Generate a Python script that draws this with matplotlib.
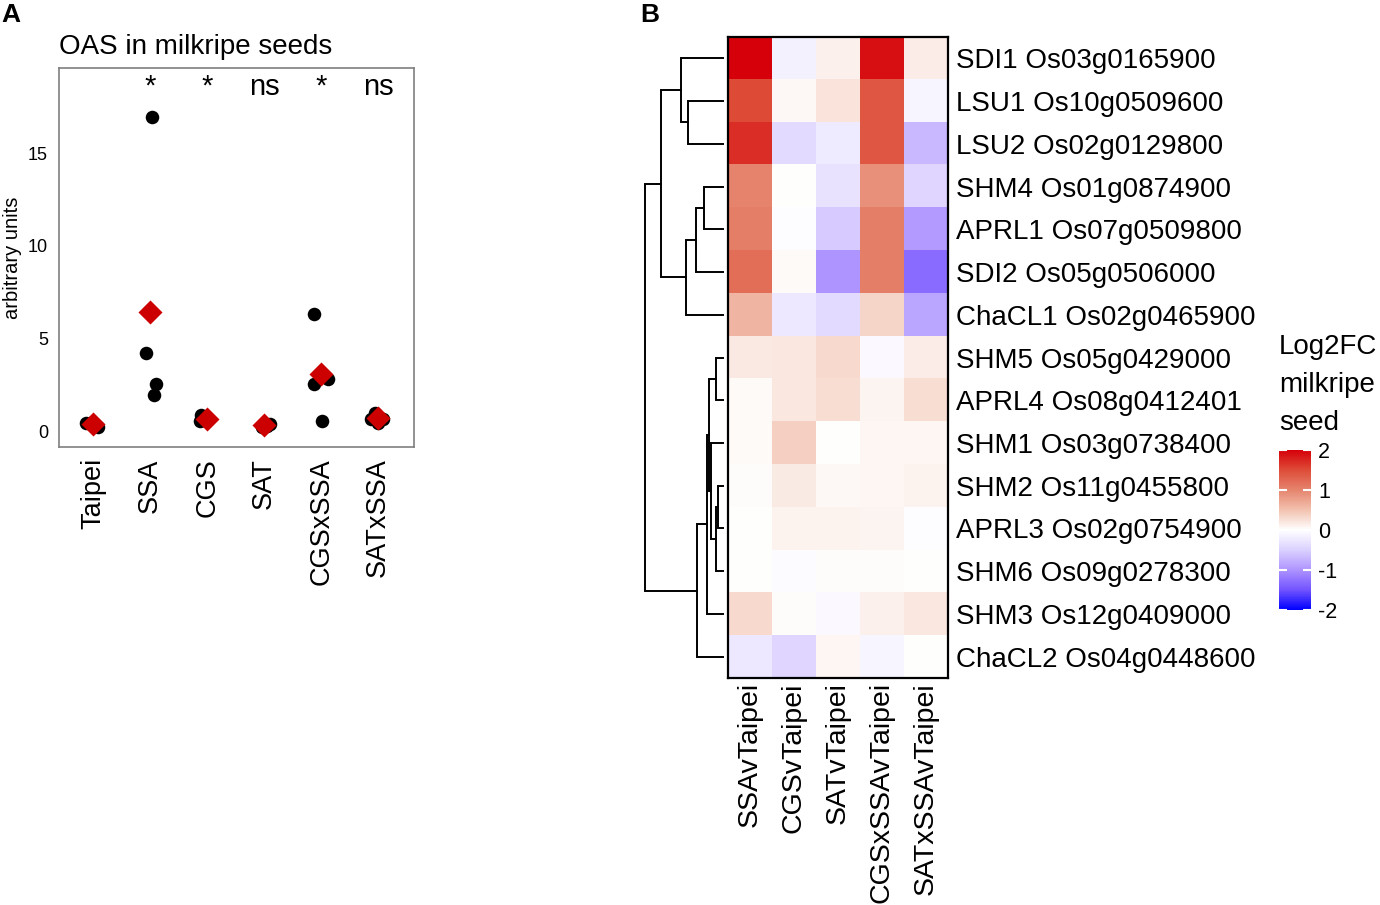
import matplotlib
matplotlib.use('Agg')
import matplotlib.pyplot as plt
import numpy as np
from matplotlib.colors import LinearSegmentedColormap

plt.rcParams['font.family'] = ['Liberation Sans', 'DejaVu Sans']
plt.rcParams['axes.unicode_minus'] = False

# ---- panel A data (OAS, 4 replicates per line) ----
lines_a = ['Taipei', 'SSA', 'CGS', 'SAT', 'CGSxSSA', 'SATxSSA']
oas_vals = [
    [0.45, 0.20, 0.40, 0.45],
    [16.95, 4.20, 2.54, 1.94],
    [0.85, 0.55, 0.60, 0.70],
    [0.40, 0.30, 0.25, 0.35],
    [6.35, 2.54, 2.80, 0.55],
    [1.00, 0.65, 0.45, 0.65],
]
jitter = [
    [-0.12, 0.09, 0.0, -0.05],
    [0.03, -0.07, 0.10, 0.07],
    [-0.10, -0.12, -0.07, -0.05],
    [0.10, 0.05, -0.03, 0.0],
    [-0.12, -0.12, 0.12, 0.02],
    [-0.05, 0.09, 0.0, -0.12],
]
signif = ['', '*', '*', 'ns', '*', 'ns']

# ---- panel B data (Log2FC milkripe seed) ----
genes = ['SDI1 Os03g0165900', 'LSU1 Os10g0509600', 'LSU2 Os02g0129800',
         'SHM4 Os01g0874900', 'APRL1 Os07g0509800', 'SDI2 Os05g0506000',
         'ChaCL1 Os02g0465900', 'SHM5 Os05g0429000', 'APRL4 Os08g0412401',
         'SHM1 Os03g0738400', 'SHM2 Os11g0455800', 'APRL3 Os02g0754900',
         'SHM6 Os09g0278300', 'SHM3 Os12g0409000', 'ChaCL2 Os04g0448600']
contrasts = ['SSAvTaipei', 'CGSvTaipei', 'SATvTaipei', 'CGSxSSAvTaipei', 'SATxSSAvTaipei']
log2fc = np.array([
    [2.00, -0.15, 0.12, 1.90, 0.15],
    [1.50, 0.05, 0.22, 1.40, -0.10],
    [1.70, -0.40, -0.22, 1.40, -0.70],
    [1.00, 0.00, -0.30, 0.90, -0.45],
    [1.05, -0.03, -0.55, 1.05, -0.95],
    [1.20, 0.04, -1.00, 1.05, -1.30],
    [0.60, -0.25, -0.40, 0.33, -0.85],
    [0.18, 0.20, 0.30, -0.05, 0.15],
    [0.04, 0.20, 0.27, 0.08, 0.27],
    [0.04, 0.38, 0.01, 0.07, 0.07],
    [0.03, 0.16, 0.06, 0.07, 0.10],
    [0.01, 0.10, 0.10, 0.08, -0.03],
    [0.00, -0.04, 0.02, 0.02, 0.00],
    [0.30, 0.02, -0.05, 0.12, 0.20],
    [-0.25, -0.45, 0.07, -0.10, 0.00],
])
# row dendrogram: (left, right, height); ids >= 15 are earlier merges
linkage = [
    (1, 2, 35), (0, 15, 42), (3, 4, 19), (17, 5, 27), (18, 6, 37), (16, 19, 62),
    (7, 8, 7), (10, 11, 5.5), (22, 12, 7), (9, 23, 12), (21, 24, 14.5),
    (25, 13, 15.7), (26, 14, 26), (20, 27, 78),
]

fig = plt.figure(figsize=(13.8, 9.05), dpi=100)

# ---------------- panel A ----------------
ax = fig.add_axes([0.0428, 0.506, 0.2572, 0.4188])
for i, (vals, jit) in enumerate(zip(oas_vals, jitter)):
    x = i + 1
    ax.scatter(np.array(jit) + x, vals, s=95, color='black', zorder=2, linewidths=0)
    ax.scatter([x], [np.mean(vals)], s=150, marker='D', color='#CC0000', zorder=3, linewidths=0)
    ax.text(x, 18.6, signif[i], ha='center', va='center', fontsize=21)
ax.set_xlim(0.4, 6.63)
ax.set_ylim(-0.86, 19.6)
ax.set_xticks(range(1, 7))
ax.set_xticklabels(lines_a, rotation=90)
ax.set_yticks([0, 5, 10, 15])
ax.tick_params(axis='both', length=0, labelsize=13)
ax.tick_params(axis='x', labelsize=19.5, pad=8)
ax.tick_params(axis='y', pad=8)
ax.set_ylabel('arbitrary units', fontsize=14.5, labelpad=4)
for sp in ax.spines.values():
    sp.set_color('#7f7f7f')
    sp.set_linewidth(1.2)
ax.set_title('OAS in milkripe seeds', loc='left', fontsize=20, pad=10)
fig.text(0.001, 0.997, 'A', fontsize=19, fontweight='bold', va='top')

# ---------------- panel B ----------------
cmap = LinearSegmentedColormap.from_list('l2fc', [
    (0.0, (0.0, 0.0, 1.0)),
    (0.125, (0.45, 0.33, 1.0)),
    (0.25, (0.68, 0.58, 1.0)),
    (0.375, (0.86, 0.82, 1.0)),
    (0.5, (1.0, 1.0, 1.0)),
    (0.625, (0.95, 0.76, 0.69)),
    (0.75, (0.90, 0.52, 0.43)),
    (0.875, (0.87, 0.30, 0.22)),
    (1.0, (0.84, 0.0, 0.04)),
])

hax = fig.add_axes([0.5275, 0.2508, 0.1594, 0.7083])
im = hax.imshow(log2fc, cmap=cmap, vmin=-2, vmax=2, aspect='auto', interpolation='nearest')
hax.set_xticks(range(len(contrasts)))
hax.set_xticklabels(contrasts, rotation=90, fontsize=20.5)
hax.set_yticks(range(len(genes)))
hax.set_yticklabels(genes, fontsize=20)
hax.yaxis.tick_right()
hax.tick_params(axis='y', length=0, pad=6)
hax.tick_params(axis='x', length=0, pad=3)
for sp in hax.spines.values():
    sp.set_linewidth(1.6)
fig.text(0.464, 0.997, 'B', fontsize=19, fontweight='bold', va='top')

# row dendrogram
dax = fig.add_axes([0.4638, 0.2508, 0.0638, 0.7083])
n = len(genes)
pos = {i: (float(i), 0.0) for i in range(n)}
for k, (a, b, h) in enumerate(linkage):
    ya, ha = pos[a]
    yb, hb = pos[b]
    dax.plot([ha, h, h, hb], [ya, ya, yb, yb], color='black', lw=1.4,
             solid_joinstyle='miter')
    pos[n + k] = ((ya + yb) / 2, h)
dax.set_ylim(n - 0.5, -0.5)
dax.set_xlim(83, -5)
dax.axis('off')

# colour bar
cax = fig.add_axes([0.9268, 0.326, 0.0232, 0.1768])
cb = fig.colorbar(im, cax=cax, ticks=[-2, -1, 0, 1, 2])
cb.outline.set_visible(False)
cax.tick_params(axis='y', direction='in', length=6, width=1.5, color='white',
                left=True, right=True, labelsize=15.5, pad=5)
fig.text(0.9268, 0.631, 'Log2FC\nmilkripe\nseed', fontsize=20, va='top', ha='left',
         linespacing=1.6)

fig.savefig('out.png', dpi=100)
